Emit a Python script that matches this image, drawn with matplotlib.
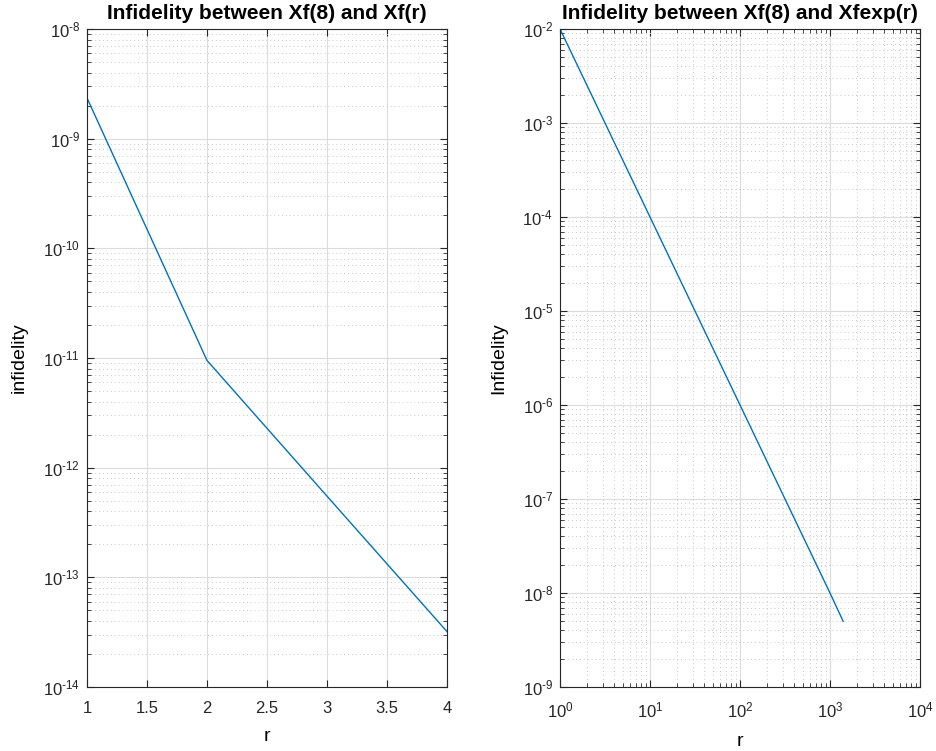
import matplotlib
matplotlib.use("Agg")
import matplotlib.pyplot as plt
from matplotlib.ticker import FixedLocator, NullFormatter, FuncFormatter
import numpy as np

plt.rcParams['font.family'] = ['Liberation Sans', 'DejaVu Sans']
plt.rcParams['mathtext.fontset'] = 'custom'
plt.rcParams['mathtext.rm'] = 'Liberation Sans'
plt.rcParams['mathtext.it'] = 'Liberation Sans'
plt.rcParams['mathtext.default'] = 'regular'
plt.rcParams['axes.unicode_minus'] = False

# Left panel data
r_left = [1, 2, 3, 4]
inf_left = [2.35e-9, 9.5e-12, 5.5e-13, 3.2e-14]
left_xticks = [1, 1.5, 2, 2.5, 3, 3.5, 4]
left_xticklabels = ['1', '1.5', '2', '2.5', '3', '3.5', '4']
left_yexp = [-14, -13, -12, -11, -10, -9, -8]

# Right panel data
r_right = [1, 10, 100, 1000, 1400]
inf_right = [1.0e-2, 1.0e-4, 1.0e-6, 1.0e-8, 5.0e-9]
right_xexp = [0, 1, 2, 3, 4]
right_yexp = [-9, -8, -7, -6, -5, -4, -3, -2]

line_color = '#0072BD'
axis_color = '#262626'

def pow10(v, pos):
    e = int(round(np.log10(v)))
    s = str(e).replace('-', '\u2010')
    return r'$10^{%s}$' % s

def majors(exps):
    return [10.0 ** e for e in exps]

def minors(exps):
    return [m * 10.0 ** e for e in exps[:-1] for m in range(2, 10)]

fig = plt.figure(figsize=(9.36, 7.51), dpi=100)
axL = fig.add_axes([87/936, 1-687/751, 360/936, 658/751])
axR = fig.add_axes([560/936, 1-687/751, 360/936, 658/751])

def style(ax):
    for s in ax.spines.values():
        s.set_color(axis_color)
        s.set_linewidth(0.8)
    ax.tick_params(which='both', direction='in', top=True, right=True,
                   colors=axis_color, labelsize=12, labelcolor='#262626')
    ax.tick_params(which='major', length=5, width=0.8)
    ax.tick_params(which='minor', length=3, width=0.6)
    ax.tick_params(axis='x', which='major', pad=10)
    ax.tick_params(axis='y', which='major', pad=5)
    ax.grid(True, which='major', color='#dcdcdc', linestyle='-', linewidth=0.8)
    ax.set_axisbelow(True)

def set_log_axis(a, exps):
    a.set_major_locator(FixedLocator(majors(exps)))
    a.set_major_formatter(FuncFormatter(pow10))
    a.set_minor_locator(FixedLocator(minors(exps)))
    a.set_minor_formatter(NullFormatter())

# Left
axL.plot(r_left, inf_left, color=line_color, lw=1.0)
axL.set_yscale('log')
axL.set_xlim(1, 4)
axL.set_ylim(10.0 ** left_yexp[0], 10.0 ** left_yexp[-1])
axL.set_xticks(left_xticks)
axL.set_xticklabels(left_xticklabels)
set_log_axis(axL.yaxis, left_yexp)
style(axL)
axL.grid(True, which='minor', axis='y', color='#c8c8c8', linestyle=(0, (1, 3)), linewidth=0.7)
axL.set_title('Infidelity between Xf(8) and Xf(r)', fontsize=15, fontweight='bold', pad=7)
axL.set_xlabel('r', fontsize=14, labelpad=9)
axL.set_ylabel('infidelity', fontsize=14, labelpad=11)

# Right
axR.plot(r_right, inf_right, color=line_color, lw=1.0)
axR.set_xscale('log')
axR.set_yscale('log')
axR.set_xlim(10.0 ** right_xexp[0], 10.0 ** right_xexp[-1])
axR.set_ylim(10.0 ** right_yexp[0], 10.0 ** right_yexp[-1])
set_log_axis(axR.xaxis, right_xexp)
set_log_axis(axR.yaxis, right_yexp)
style(axR)
axR.grid(True, which='minor', color='#c8c8c8', linestyle=(0, (1, 3)), linewidth=0.7)
axR.set_title('Infidelity between Xf(8) and Xfexp(r)', fontsize=15, fontweight='bold', pad=7)
axR.set_xlabel('r', fontsize=14, labelpad=9)
axR.set_ylabel('Infidelity', fontsize=14, labelpad=11)

fig.savefig('out.png', dpi=100)
